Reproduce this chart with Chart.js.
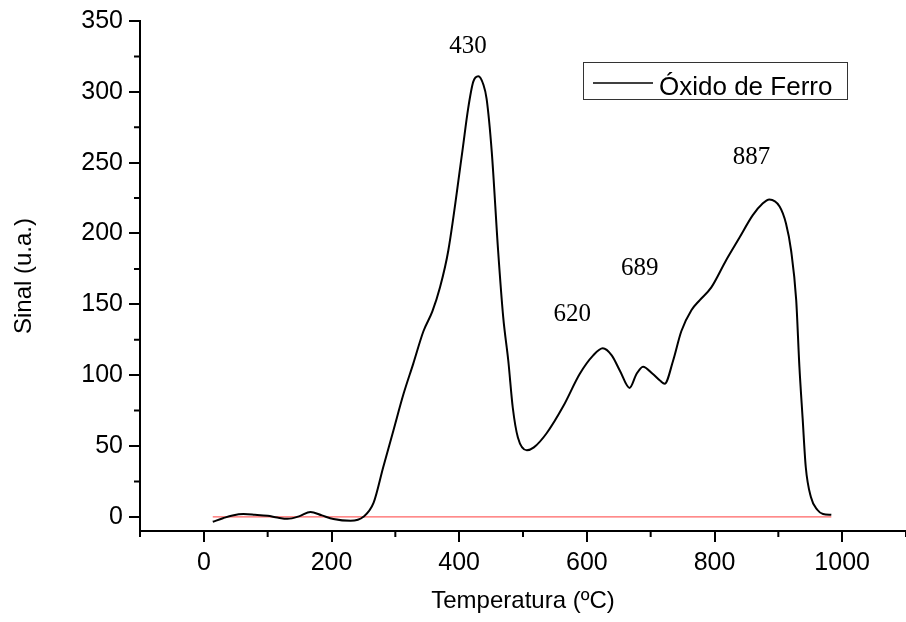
<!DOCTYPE html>
<html>
<head>
<meta charset="utf-8">
<script src="https://cdn.jsdelivr.net/npm/chart.js@4"></script>
<style>
  html, body { margin: 0; padding: 0; background: #fff; }
  #wrap { width: 906px; height: 622px; }
</style>
</head>
<body>
<div id="wrap"><canvas id="tprChart" width="906" height="622"></canvas></div>
<script>
// TPR curve
var temperatura = [14, 30, 45, 62, 80, 100, 115, 131, 150, 167, 185, 203, 230, 250, 266, 281, 297, 313, 328, 344, 358, 370, 383, 405, 414, 422, 430, 438, 443, 451, 461, 469, 477, 484, 492, 506, 517, 537, 563, 589, 610, 625, 639, 652, 667, 678, 688, 703, 715, 722, 735, 748, 764, 777, 795, 818, 839, 860, 875, 886, 902, 912, 920, 928, 933, 938, 943, 951, 961, 970, 983];
var sinal = [-3.5, -1, 1, 2, 1.5, 0.7, -0.5, -1.4, 0.5, 3.5, 1, -1.5, -2.8, 0, 10, 35, 61, 87, 108, 131, 145, 162, 188, 258, 288, 307, 311, 305, 295, 258, 188, 141, 110, 77, 56, 47, 49, 59, 78, 101, 114, 119, 114, 103, 91, 101, 106, 101, 96, 94, 110, 131, 146, 153, 162, 181, 197, 213, 221, 224, 219, 207, 188, 153, 106, 70, 35, 14, 5, 2, 1.5];

// baseline (red)
var baseX = [14, 983];
var baseY = [0, 0];

// peak labels and where they sit (data units)
var picoTexto = ['430', '620', '689', '887'];
var picoX = [414, 577, 683, 858];
var picoY = [332, 143, 175, 254];

var xMajor = [0, 200, 400, 600, 800, 1000];
var xMinor = [-100, 100, 300, 500, 700, 900, 1100];
var yMajor = [0, 50, 100, 150, 200, 250, 300, 350];
var yMinor = [25, 75, 125, 175, 225, 275, 325];

function toPoints(xs, ys) {
  return xs.map(function (x, i) { return { x: x, y: ys[i] }; });
}

var sans = "'Liberation Sans', Arial, sans-serif";

// minor ticks, peak labels and the boxed legend
var extras = {
  id: 'extras',
  afterDraw: function (chart) {
    var ctx = chart.ctx;
    var xs = chart.scales.x, ys = chart.scales.y;
    ctx.save();
    ctx.strokeStyle = '#000';
    ctx.lineWidth = 2;
    ctx.beginPath();
    xMinor.forEach(function (v) {
      var px = xs.getPixelForValue(v);
      ctx.moveTo(px, xs.top);
      ctx.lineTo(px, xs.top + 6);
    });
    yMinor.forEach(function (v) {
      var py = ys.getPixelForValue(v);
      ctx.moveTo(ys.right, py);
      ctx.lineTo(ys.right - 6, py);
    });
    ctx.stroke();

    ctx.fillStyle = '#000';
    ctx.font = "25px 'Liberation Serif', 'Times New Roman', serif";
    ctx.textAlign = 'center';
    ctx.textBaseline = 'middle';
    picoTexto.forEach(function (t, i) {
      ctx.fillText(t, xs.getPixelForValue(picoX[i]), ys.getPixelForValue(picoY[i]));
    });

    // legend box
    ctx.strokeStyle = '#333';
    ctx.lineWidth = 1;
    ctx.strokeRect(583.5, 62.5, 264, 37);
    ctx.strokeStyle = '#000';
    ctx.lineWidth = 1.5;
    ctx.beginPath();
    ctx.moveTo(593, 83);
    ctx.lineTo(653, 83);
    ctx.stroke();
    ctx.font = '26px ' + sans;
    ctx.textAlign = 'left';
    ctx.textBaseline = 'alphabetic';
    ctx.fillText(chart.data.datasets[0].label, 659, 95);
    ctx.restore();
  }
};

var ctx1 = document.getElementById('tprChart').getContext('2d');
var tprChart = new Chart(ctx1, {
  type: 'scatter',
  data: {
    datasets: [{
      label: 'Óxido de Ferro',
      data: toPoints(temperatura, sinal),
      showLine: true,
      borderColor: '#000',
      borderWidth: 2,
      pointRadius: 0,
      cubicInterpolationMode: 'monotone',
      order: 1
    }, {
      label: 'baseline',
      data: toPoints(baseX, baseY),
      showLine: true,
      borderColor: 'rgba(255, 60, 60, 0.8)',
      borderWidth: 1.2,
      pointRadius: 0,
      order: 2
    }]
  },
  options: {
    responsive: false,
    animation: false,
    layout: { padding: { top: 19, right: 0, left: 0, bottom: 0 } },
    plugins: {
      legend: { display: false },
      tooltip: { enabled: false }
    },
    scales: {
      x: {
        type: 'linear',
        min: -100,
        max: 1100,
        afterBuildTicks: function (s) { s.ticks = xMajor.map(function (v) { return { value: v }; }); },
        afterFit: function (s) { s.height = 91; s.paddingLeft = 0; s.paddingRight = 0; },
        border: { display: true, color: '#000', width: 2 },
        grid: { display: true, drawOnChartArea: false, drawTicks: true, tickLength: 11, color: '#000', lineWidth: 2 },
        ticks: { color: '#000', padding: 6, font: { family: sans, size: 25 }, maxRotation: 0,
          callback: function (v) { return String(v); } },
        title: { display: true, text: 'Temperatura (ºC)', color: '#000', font: { family: sans, size: 24 }, padding: { top: 0, bottom: 6 } }
      },
      y: {
        type: 'linear',
        min: -10,
        max: 350,
        afterBuildTicks: function (s) { s.ticks = yMajor.map(function (v) { return { value: v }; }); },
        afterFit: function (s) { s.width = 140; },
        border: { display: true, color: '#000', width: 2 },
        grid: { display: true, drawOnChartArea: false, drawTicks: true, tickLength: 11, color: '#000', lineWidth: 2 },
        ticks: { color: '#000', padding: 6, font: { family: sans, size: 25 },
          callback: function (v) { return String(v); } },
        title: { display: true, text: 'Sinal (u.a.)', color: '#000', font: { family: sans, size: 24 }, padding: { top: 10, bottom: 0 } }
      }
    }
  },
  plugins: [extras]
});
</script>
</body>
</html>
